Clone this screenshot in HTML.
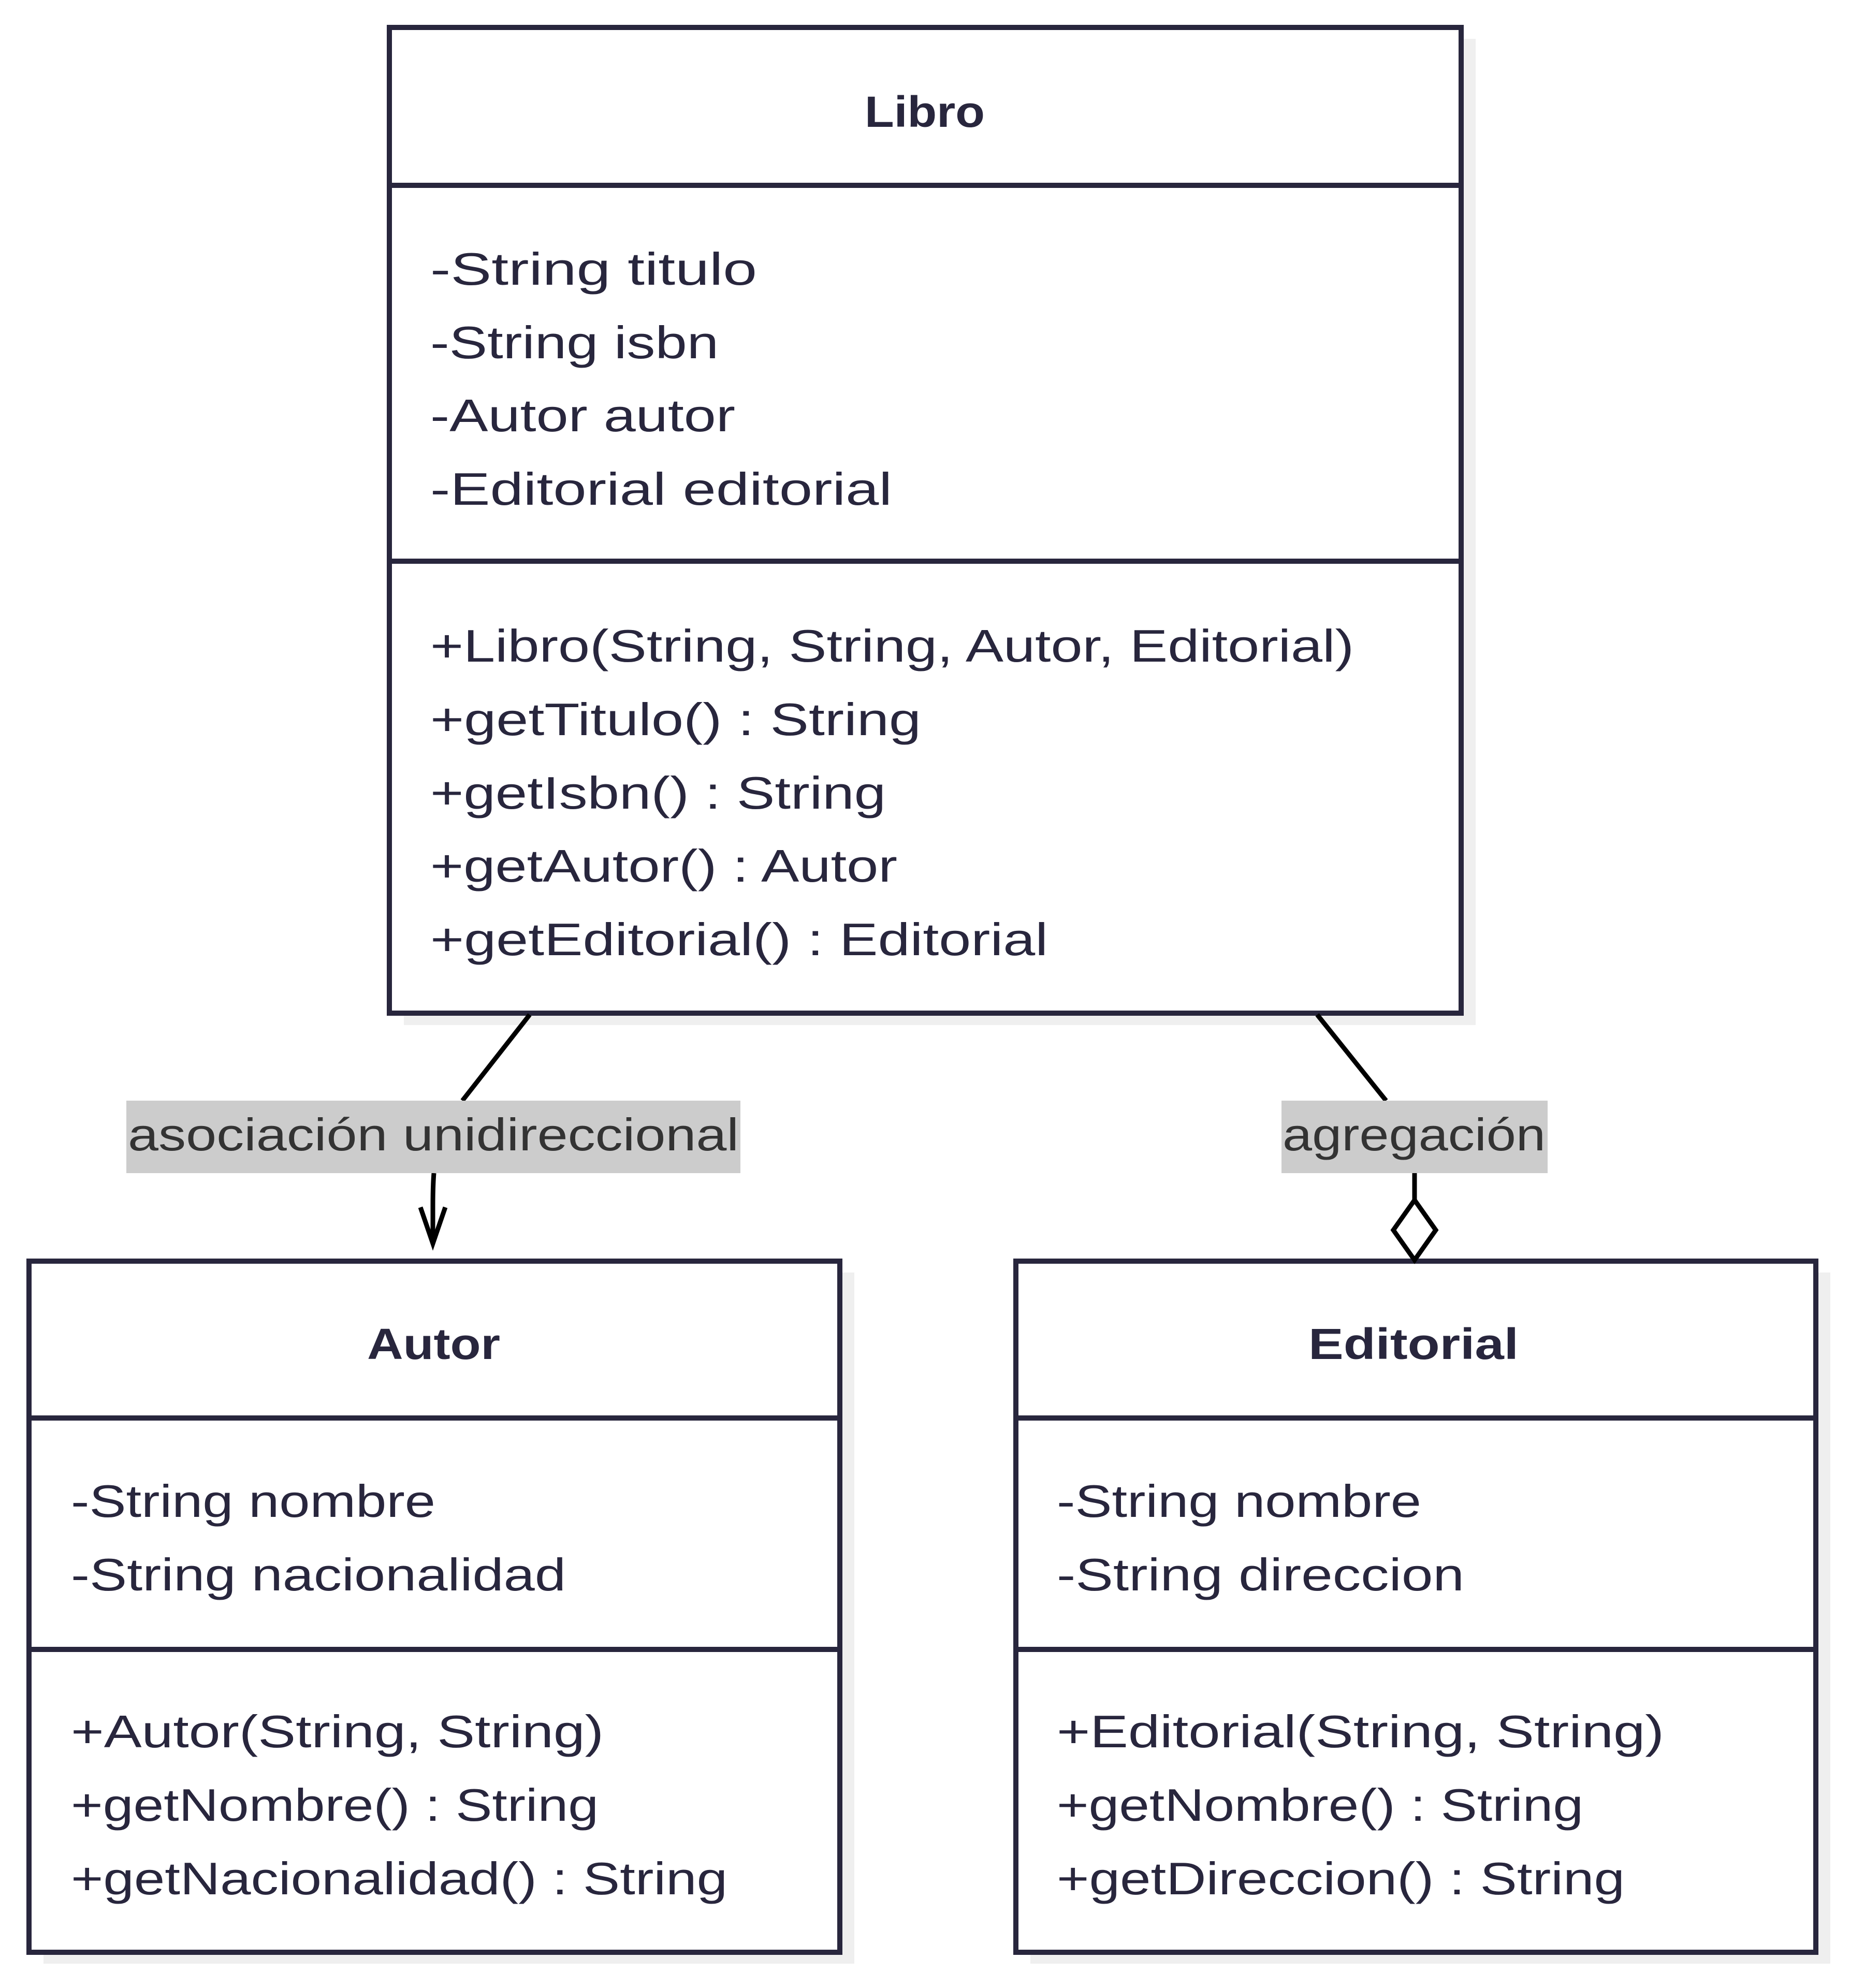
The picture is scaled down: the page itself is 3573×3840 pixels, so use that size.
<!DOCTYPE html>
<html><head><meta charset="utf-8"><style>
html,body{margin:0;padding:0;background:#fff}
svg{display:block}
text{font-family:"Liberation Sans",sans-serif;fill:#28263d}
.t{font-size:88px}
.h{font-size:84px;font-weight:bold}
</style></head><body>
<svg width="3573" height="3840" viewBox="0 0 3573 3840" xmlns="http://www.w3.org/2000/svg">
<!-- shadows -->
<rect x="780" y="75" width="2070" height="1905" fill="#efefef"/>
<rect x="84" y="2458" width="1566" height="1335" fill="#efefef"/>
<rect x="1990" y="2458" width="1545" height="1335" fill="#efefef"/>
<!-- Libro -->
<rect x="752" y="53" width="2070" height="1904" fill="#fff" stroke="#28263d" stroke-width="10"/>
<line x1="752" y1="358" x2="2822" y2="358" stroke="#28263d" stroke-width="10"/>
<line x1="752" y1="1084" x2="2822" y2="1084" stroke="#28263d" stroke-width="10"/>
<text class="h" x="1670" y="245" textLength="232" lengthAdjust="spacingAndGlyphs">Libro</text>
<text class="t" x="831" y="550" textLength="631" lengthAdjust="spacingAndGlyphs">-String titulo</text>
<text class="t" x="831" y="692" textLength="557" lengthAdjust="spacingAndGlyphs">-String isbn</text>
<text class="t" x="831" y="833" textLength="589" lengthAdjust="spacingAndGlyphs">-Autor autor</text>
<text class="t" x="831" y="975" textLength="892" lengthAdjust="spacingAndGlyphs">-Editorial editorial</text>
<text class="t" x="831" y="1278" textLength="1784" lengthAdjust="spacingAndGlyphs">+Libro(String, String, Autor, Editorial)</text>
<text class="t" x="831" y="1420" textLength="948" lengthAdjust="spacingAndGlyphs">+getTitulo() : String</text>
<text class="t" x="831" y="1562" textLength="880" lengthAdjust="spacingAndGlyphs">+getIsbn() : String</text>
<text class="t" x="831" y="1703" textLength="902" lengthAdjust="spacingAndGlyphs">+getAutor() : Autor</text>
<text class="t" x="831" y="1845" textLength="1193" lengthAdjust="spacingAndGlyphs">+getEditorial() : Editorial</text>
<!-- Autor -->
<rect x="56" y="2436" width="1566" height="1335" fill="#fff" stroke="#28263d" stroke-width="10"/>
<line x1="56" y1="2739" x2="1622" y2="2739" stroke="#28263d" stroke-width="10"/>
<line x1="56" y1="3186" x2="1622" y2="3186" stroke="#28263d" stroke-width="10"/>
<text class="h" x="709" y="2625" textLength="257" lengthAdjust="spacingAndGlyphs">Autor</text>
<text class="t" x="137" y="2930" textLength="704" lengthAdjust="spacingAndGlyphs">-String nombre</text>
<text class="t" x="137" y="3072" textLength="956" lengthAdjust="spacingAndGlyphs">-String nacionalidad</text>
<text class="t" x="137" y="3375" textLength="1029" lengthAdjust="spacingAndGlyphs">+Autor(String, String)</text>
<text class="t" x="137" y="3517" textLength="1019" lengthAdjust="spacingAndGlyphs">+getNombre() : String</text>
<text class="t" x="137" y="3659" textLength="1268" lengthAdjust="spacingAndGlyphs">+getNacionalidad() : String</text>
<!-- Editorial -->
<rect x="1962" y="2436" width="1545" height="1335" fill="#fff" stroke="#28263d" stroke-width="10"/>
<line x1="1962" y1="2739" x2="3507" y2="2739" stroke="#28263d" stroke-width="10"/>
<line x1="1962" y1="3186" x2="3507" y2="3186" stroke="#28263d" stroke-width="10"/>
<text class="h" x="2527" y="2625" textLength="406" lengthAdjust="spacingAndGlyphs">Editorial</text>
<text class="t" x="2041" y="2930" textLength="704" lengthAdjust="spacingAndGlyphs">-String nombre</text>
<text class="t" x="2041" y="3072" textLength="787" lengthAdjust="spacingAndGlyphs">-String direccion</text>
<text class="t" x="2041" y="3375" textLength="1173" lengthAdjust="spacingAndGlyphs">+Editorial(String, String)</text>
<text class="t" x="2041" y="3517" textLength="1017" lengthAdjust="spacingAndGlyphs">+getNombre() : String</text>
<text class="t" x="2041" y="3659" textLength="1097" lengthAdjust="spacingAndGlyphs">+getDireccion() : String</text>
<!-- edge 1 -->
<path d="M1023 1960 L893 2126 M838 2266 Q836 2290 836 2330 L836 2402" fill="none" stroke="#000" stroke-width="9"/>
<path d="M812 2332 L836 2402 L860 2332" fill="none" stroke="#000" stroke-width="9"/>
<rect x="244" y="2126" width="1186" height="140" fill="#cccccc"/>
<text class="t" x="247" y="2222" textLength="1180" lengthAdjust="spacingAndGlyphs" style="fill:#333">asociación unidireccional</text>
<!-- edge 2 -->
<path d="M2544 1960 L2677 2126 M2732 2266 L2732 2318" fill="none" stroke="#000" stroke-width="9"/>
<path d="M2732 2318 L2773 2376 L2732 2434 L2691 2376 Z" fill="#fff" stroke="#000" stroke-width="9"/>
<rect x="2475" y="2126" width="514" height="140" fill="#cccccc"/>
<text class="t" x="2477" y="2222" textLength="508" lengthAdjust="spacingAndGlyphs" style="fill:#333">agregación</text>
</svg>
</body></html>
